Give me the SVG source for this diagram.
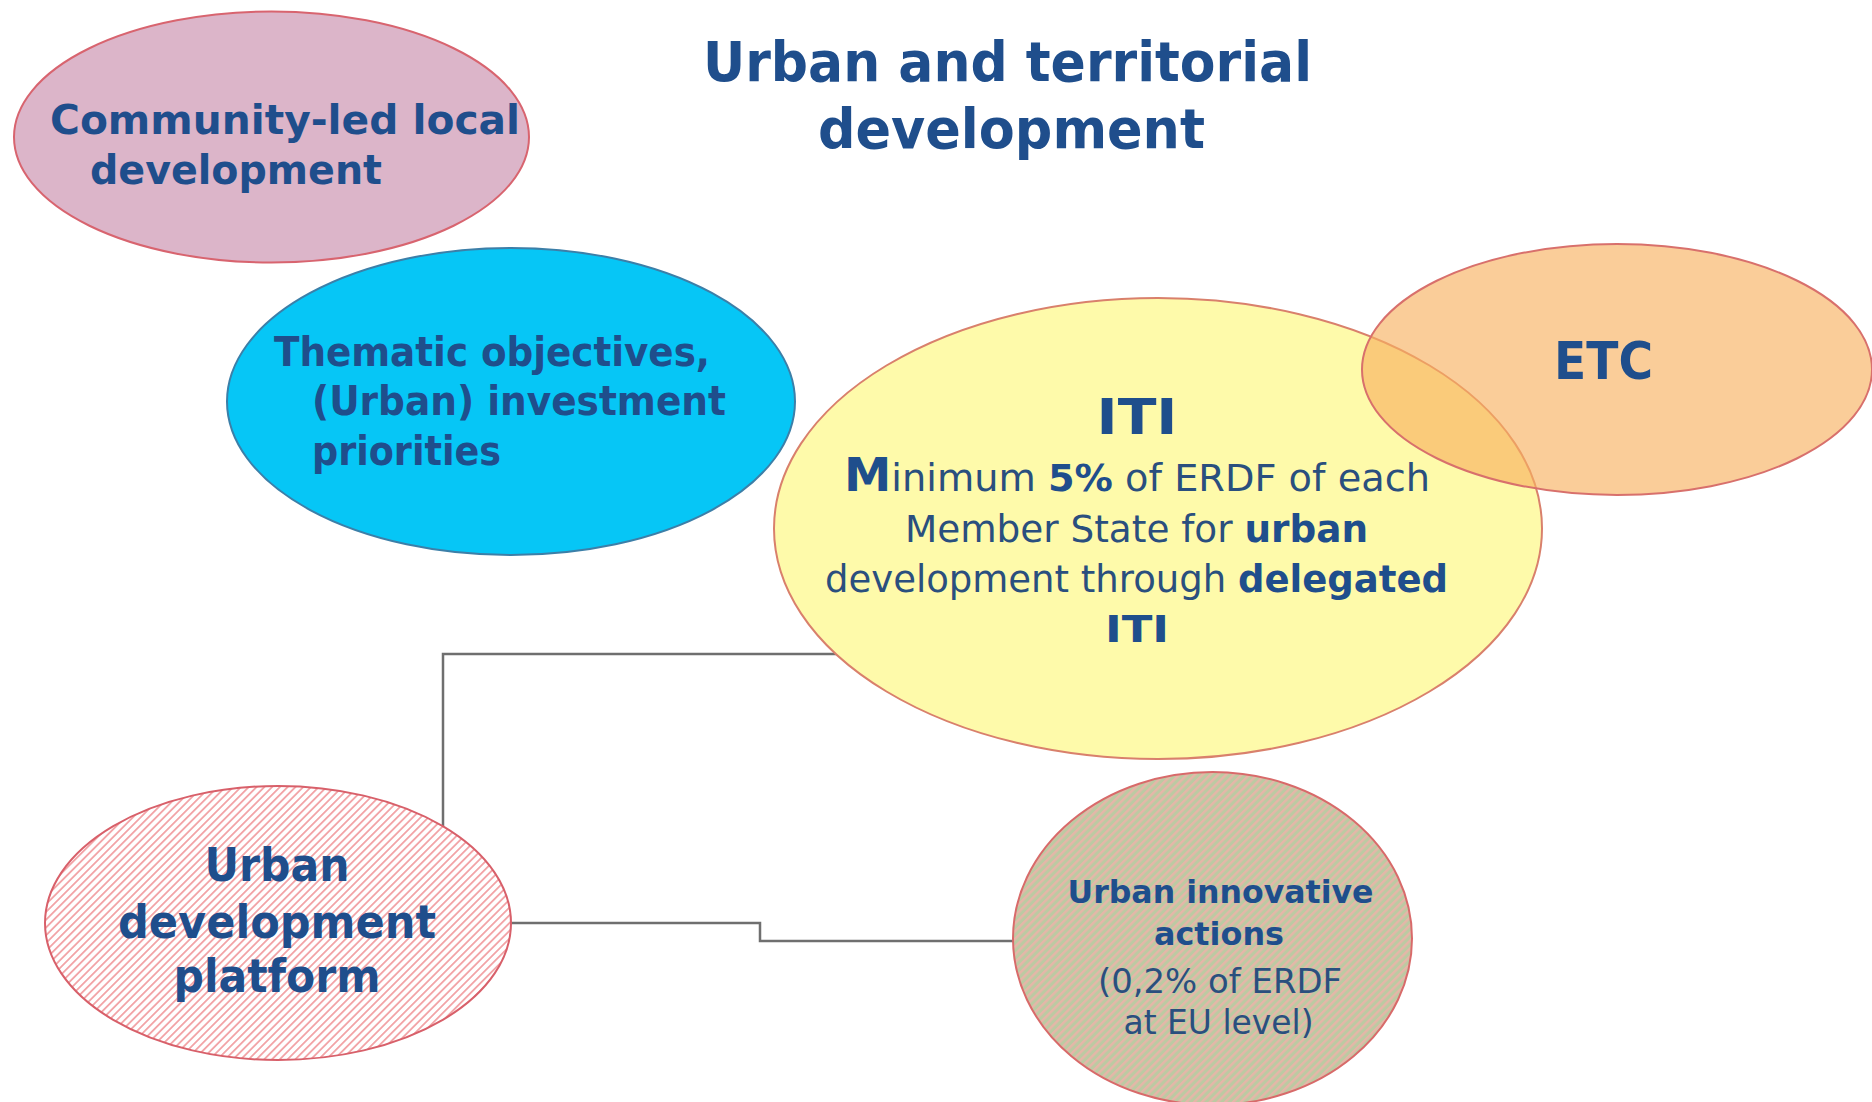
<svg xmlns="http://www.w3.org/2000/svg" width="1872" height="1102" viewBox="0 0 1872 1102">
  <style>
    .b { font-family: "DejaVu Sans", Verdana, sans-serif; font-weight: bold; fill: #1f4e8c; }
    .r { font-family: "DejaVu Sans", Verdana, sans-serif; font-weight: normal; fill: #2a4f7e; }
    .bt { font-family: "DejaVu Sans", Verdana, sans-serif; font-weight: bold; fill: #1f4e8c; }
    .conn { fill: none; stroke: #6f6f6f; stroke-width: 2.5; }
  </style>
  <defs>
    <pattern id="hatchWhite" patternUnits="userSpaceOnUse" width="5.5" height="5.5" patternTransform="rotate(45)">
      <rect width="5.5" height="5.5" fill="#ffffff"/>
      <rect width="1.8" height="5.5" fill="#f2a3a6"/>
    </pattern>
    <pattern id="hatchKhaki" patternUnits="userSpaceOnUse" width="5.5" height="5.5" patternTransform="rotate(45)">
      <rect width="5.5" height="5.5" fill="#bccaa2"/>
      <rect width="2.4" height="5.5" fill="#e6b6a8"/>
    </pattern>
  </defs>
  <rect width="1872" height="1102" fill="#ffffff"/>

  <g id="title">
    <text class="bt" font-size="56" x="1007.5" y="81" text-anchor="middle" textLength="609" lengthAdjust="spacingAndGlyphs">Urban and territorial</text>
    <text class="bt" font-size="56" x="1011.5" y="148" text-anchor="middle" textLength="387" lengthAdjust="spacingAndGlyphs">development</text>
  </g>

  <g id="connectors">
    <path class="conn" d="M 842 654 H 443 V 826"/>
    <path class="conn" d="M 511 923 H 760 V 941 H 1013"/>
  </g>

  <g id="node-clld">
    <ellipse cx="271.5" cy="137" rx="257.5" ry="125.5" fill="#dcb5c9" stroke="#d8646f" stroke-width="2"/>
    <text class="b" font-size="41" x="50" y="134" textLength="470" lengthAdjust="spacingAndGlyphs">Community-led local</text>
    <text class="b" font-size="41" x="90" y="184" textLength="292" lengthAdjust="spacingAndGlyphs">development</text>
  </g>

  <g id="node-thematic">
    <ellipse cx="511" cy="401.5" rx="284" ry="153.5" fill="#06c6f6" stroke="#3c7fa8" stroke-width="2"/>
    <text class="b" font-size="40" x="274" y="366" textLength="436" lengthAdjust="spacingAndGlyphs">Thematic  objectives,</text>
    <text class="b" font-size="40" x="312" y="415" textLength="414" lengthAdjust="spacingAndGlyphs">(Urban) investment</text>
    <text class="b" font-size="40" x="312" y="465" textLength="189" lengthAdjust="spacingAndGlyphs">priorities</text>
  </g>

  <g id="node-iti">
    <ellipse cx="1158" cy="528.5" rx="384" ry="230.5" fill="#fefaaa" stroke="#d9806c" stroke-width="2"/>
    <text class="b" font-size="50" x="1137" y="434" text-anchor="middle" textLength="81" lengthAdjust="spacingAndGlyphs">ITI</text>
    <text class="r" font-size="37" x="1137" y="491" text-anchor="middle" textLength="586" lengthAdjust="spacingAndGlyphs"><tspan class="b" font-size="46">M</tspan>inimum <tspan class="b">5%</tspan> of ERDF of each</text>
    <text class="r" font-size="37" x="1136.5" y="542" text-anchor="middle" textLength="463" lengthAdjust="spacingAndGlyphs">Member State for <tspan class="b">urban</tspan></text>
    <text class="r" font-size="37" x="1136.5" y="592" text-anchor="middle" textLength="623" lengthAdjust="spacingAndGlyphs">development through <tspan class="b">delegated</tspan></text>
    <text class="b" font-size="37" x="1137" y="642" text-anchor="middle" textLength="64" lengthAdjust="spacingAndGlyphs">ITI</text>
  </g>

  <g id="node-etc">
    <ellipse cx="1617" cy="369.5" rx="255" ry="125.5" fill="#f7b060" fill-opacity="0.64" stroke="#d8706c" stroke-width="2"/>
    <text class="b" font-size="52" x="1554" y="379" textLength="99" lengthAdjust="spacingAndGlyphs">ETC</text>
  </g>

  <g id="node-platform">
    <ellipse cx="278" cy="923" rx="233" ry="137" fill="url(#hatchWhite)" stroke="#d8606a" stroke-width="2"/>
    <text class="b" font-size="46" x="277" y="881" text-anchor="middle" textLength="145" lengthAdjust="spacingAndGlyphs">Urban</text>
    <text class="b" font-size="46" x="277" y="938" text-anchor="middle" textLength="318" lengthAdjust="spacingAndGlyphs">development</text>
    <text class="b" font-size="46" x="277" y="992" text-anchor="middle" textLength="207" lengthAdjust="spacingAndGlyphs">platform</text>
  </g>

  <g id="node-innovative">
    <ellipse cx="1212.5" cy="938.5" rx="199.5" ry="166.5" fill="url(#hatchKhaki)" stroke="#d86a6a" stroke-width="2"/>
    <text class="b" font-size="32" x="1220.5" y="903" text-anchor="middle" textLength="306" lengthAdjust="spacingAndGlyphs">Urban innovative</text>
    <text class="b" font-size="32" x="1219" y="945" text-anchor="middle" textLength="130" lengthAdjust="spacingAndGlyphs">actions</text>
    <text class="r" font-size="33" x="1220" y="993" text-anchor="middle" textLength="244" lengthAdjust="spacingAndGlyphs">(0,2% of ERDF</text>
    <text class="r" font-size="33" x="1218.5" y="1034" text-anchor="middle" textLength="190" lengthAdjust="spacingAndGlyphs">at EU level)</text>
  </g>
</svg>
